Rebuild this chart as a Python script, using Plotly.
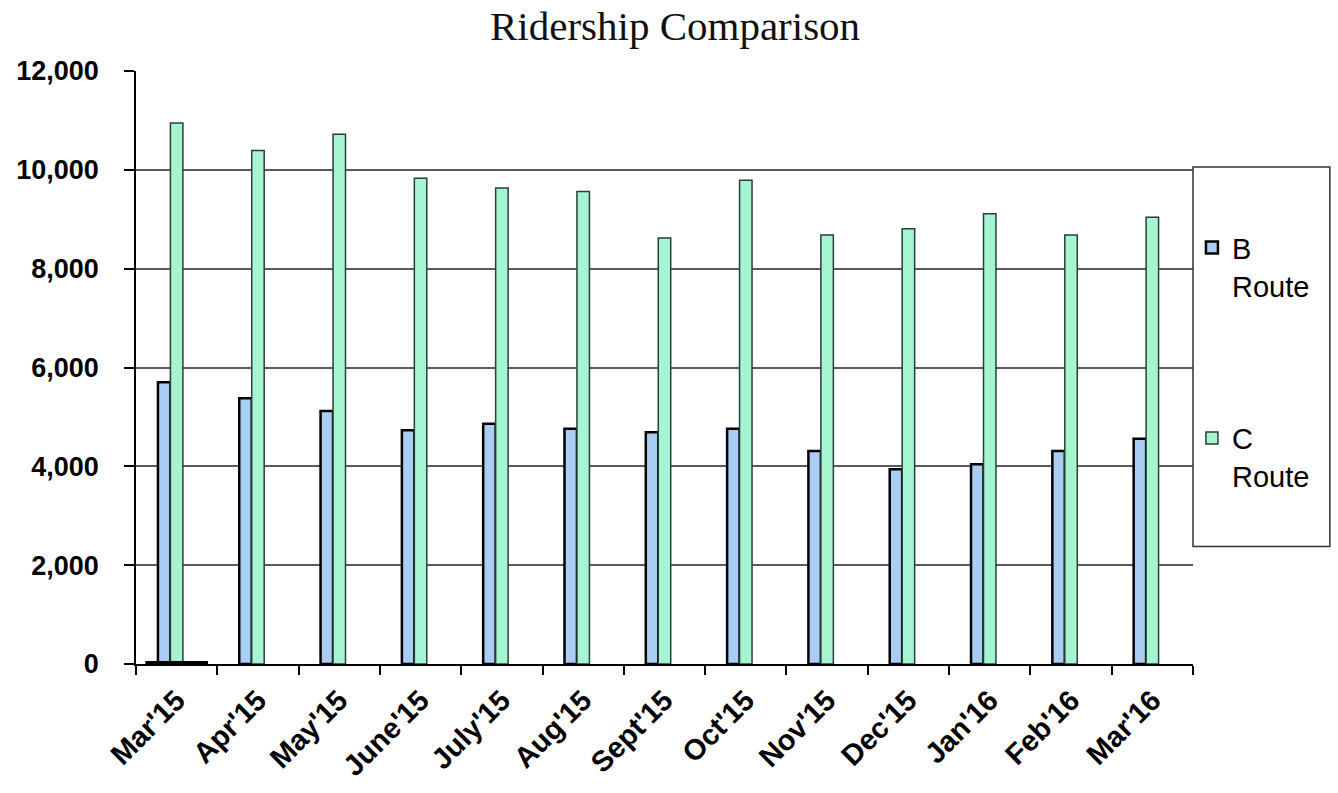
import plotly.graph_objects as go

months = ["Mar'15", "Apr'15", "May'15", "June'15", "July'15", "Aug'15", "Sept'15",
          "Oct'15", "Nov'15", "Dec'15", "Jan'16", "Feb'16", "Mar'16"]
b_route = [5700, 5380, 5120, 4730, 4860, 4760, 4690, 4760, 4310, 3940, 4040, 4310, 4560]
c_route = [10950, 10390, 10720, 9830, 9630, 9560, 8620, 9790, 8680, 8810, 9110, 8680, 9040]
empty_series = [0] * len(months)
baseline_mark_months = ["Mar'15"]
baseline_mark_values = [60]

y_ticks = [0, 2000, 4000, 6000, 8000, 10000, 12000]

fig = go.Figure()
fig.add_trace(go.Bar(
    x=months, y=b_route, name="B<br>Route", legendgroup="b",
    marker=dict(color="#a9cdf3", line=dict(color="#000000", width=2.5)),
))
fig.add_trace(go.Bar(
    x=months, y=c_route, name="C<br>Route", legendgroup="c",
    marker=dict(color="#a6f5d2", line=dict(color="#2b3f35", width=1.5)),
))
fig.add_trace(go.Bar(
    x=months, y=empty_series, name="", showlegend=False, hoverinfo="skip",
    marker=dict(color="rgba(0,0,0,0)", line=dict(width=0)),
))
fig.add_trace(go.Bar(
    x=baseline_mark_months, y=baseline_mark_values, xaxis="x2", showlegend=False,
    width=0.77, marker=dict(color="#000000", line=dict(width=0)), hoverinfo="skip",
))

sans = "Liberation Sans, Arial, sans-serif"

fig.update_layout(
    width=1338, height=793,
    margin=dict(l=136, r=145, t=71, b=129),
    paper_bgcolor="white", plot_bgcolor="white",
    barmode="group", bargap=0.54, bargroupgap=0,
    title=dict(text="Ridership Comparison", x=0.51, xref="paper", xanchor="center",
               y=0.968, yanchor="middle",
               font=dict(family="Liberation Serif, Times New Roman, serif", size=41, color="#111111")),
    xaxis=dict(
        categoryorder="array", categoryarray=months,
        tickangle=-45, tickfont=dict(family=sans, size=29, color="#000000", weight="bold"),
        ticks="outside", ticklen=9, tickwidth=1.5, tickcolor="#000000", tickson="boundaries",
        showline=True, linecolor="#000000", linewidth=1.5, showgrid=False, zeroline=False,
        range=[-0.5, 12.5], ticklabelstandoff=6,
    ),
    xaxis2=dict(overlaying="x", matches="x", visible=False, categoryorder="array",
                categoryarray=months, range=[-0.5, 12.5]),
    yaxis=dict(
        range=[0, 12000], tickvals=y_ticks, tickformat=",",
        tickfont=dict(family=sans, size=27, color="#000000", weight="bold"),
        ticks="outside", ticklen=10, tickwidth=1.5, tickcolor="#000000",
        showline=True, linecolor="#000000", linewidth=1.5, ticklabelstandoff=20,
        showgrid=True, gridcolor="#5a5a5a", gridwidth=2, zeroline=False,
    ),
    legend=dict(
        x=0.999, xanchor="left", y=0.745, yanchor="top",
        font=dict(family=sans, size=29, color="#000000"),
        bgcolor="rgba(0,0,0,0)", borderwidth=0,
        traceorder="grouped", tracegroupgap=112, valign="top",
        itemwidth=30,
    ),
    shapes=[dict(type="rect", xref="paper", yref="paper",
                 x0=1.0, x1=1.1295, y0=0.198, y1=0.838,
                 line=dict(color="#333333", width=1.5), fillcolor="rgba(0,0,0,0)", layer="above")],
    showlegend=True,
)

fig.write_html("out.html")
